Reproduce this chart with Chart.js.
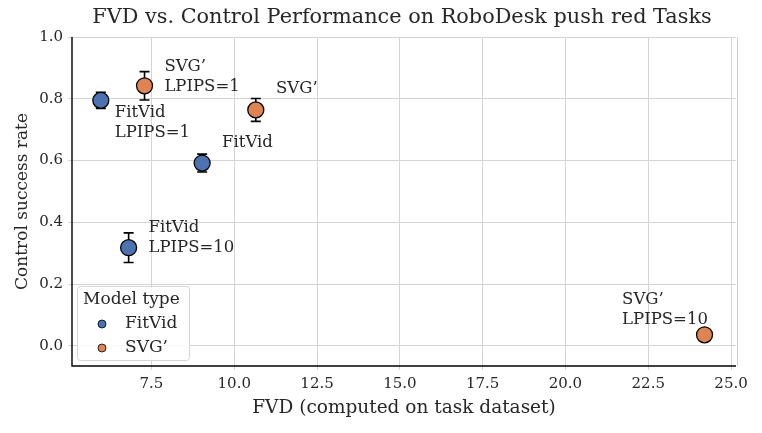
<!DOCTYPE html>
<html><head><meta charset="utf-8">
<script src="https://cdn.jsdelivr.net/npm/chart.js@4.4.1/dist/chart.umd.min.js"></script>
<style>html,body{margin:0;padding:0;background:#fff}#wrap{width:762px;height:433px}</style>
</head><body><div id="wrap"><canvas id="c" width="762" height="433"></canvas></div>
<script>
// ---- data ----
const modelTypes = ["FitVid", "SVG’"];
const fitvidFVD = [5.97, 9.03, 6.81];
const fitvidSuccess = [0.795, 0.592, 0.318];
const fitvidErr = [0.026, 0.029, 0.048];
const svgFVD = [7.29, 10.65, 24.2];
const svgSuccess = [0.842, 0.764, 0.036];
const svgErr = [0.046, 0.037, 0.0];
const labelTexts = [["SVG’", "LPIPS=1"], ["SVG’"], ["FitVid", "LPIPS=1"], ["FitVid"], ["FitVid", "LPIPS=10"], ["SVG’", "LPIPS=10"]];
const labelX = [7.89, 11.26, 6.39, 9.63, 7.41, 21.71];
const labelY = [0.903, 0.832, 0.754, 0.657, 0.382, 0.149];
const xTicks = [7.5, 10.0, 12.5, 15.0, 17.5, 20.0, 22.5, 25.0];
const yTicks = [0.0, 0.2, 0.4, 0.6, 0.8, 1.0];

const FONT = "'DejaVu Serif', serif";
const TXT = '#262626';
const colors = ['#4c72b0', '#dd8452'];

const toPts = (xs, ys) => xs.map((x, i) => ({x: x, y: ys[i]}));

const errPlugin = {
  id: 'errbars',
  beforeDatasetsDraw(chart) {
    const ctx = chart.ctx, xs = chart.scales.x, ys = chart.scales.y;
    ctx.save();
    ctx.strokeStyle = '#000'; ctx.lineWidth = 1.6;
    chart.data.datasets.forEach(ds => {
      ds.data.forEach((p, i) => {
        const e = ds.err[i]; if (!e) return;
        const px = xs.getPixelForValue(p.x);
        const y1 = ys.getPixelForValue(p.y - e), y2 = ys.getPixelForValue(p.y + e);
        ctx.beginPath();
        ctx.moveTo(px, y1); ctx.lineTo(px, y2);
        ctx.moveTo(px - 5, y1); ctx.lineTo(px + 5, y1);
        ctx.moveTo(px - 5, y2); ctx.lineTo(px + 5, y2);
        ctx.stroke();
      });
    });
    ctx.restore();
  },
  afterDatasetsDraw(chart) {
    const ctx = chart.ctx, xs = chart.scales.x, ys = chart.scales.y, ca = chart.chartArea;
    ctx.save();
    // annotations
    ctx.fillStyle = TXT; ctx.font = "16.5px " + FONT; ctx.textAlign = 'left'; ctx.textBaseline = 'middle';
    labelTexts.forEach((lines, i) => {
      const px = xs.getPixelForValue(labelX[i]), py = ys.getPixelForValue(labelY[i]);
      lines.forEach((t, k) => ctx.fillText(t, px, py + k * 19.5));
    });
    // spines
    ctx.strokeStyle = '#000'; ctx.lineWidth = 1.4;
    ctx.beginPath();
    ctx.moveTo(ca.left, ca.top); ctx.lineTo(ca.left, ca.bottom); ctx.lineTo(ca.right, ca.bottom);
    ctx.stroke();
    ctx.strokeStyle = '#d0d0d0'; ctx.lineWidth = 1;
    ctx.beginPath(); ctx.moveTo(ca.right + 1.5, ca.top); ctx.lineTo(ca.right + 1.5, ca.bottom); ctx.stroke();
    // legend
    const lx = 77, ly = 286, lw = 112, lh = 74;
    ctx.fillStyle = 'rgba(255,255,255,0.85)'; ctx.strokeStyle = '#d6d6d6'; ctx.lineWidth = 1;
    ctx.beginPath(); ctx.roundRect(lx + 0.5, ly + 0.5, lw, lh, 3); ctx.fill(); ctx.stroke();
    ctx.fillStyle = TXT; ctx.font = "17px " + FONT;
    ctx.fillText("Model type", lx + 6, ly + 14);
    modelTypes.forEach((m, k) => {
      const cy = ly + 38 + k * 24;
      ctx.beginPath(); ctx.arc(lx + 25, cy, 4, 0, Math.PI * 2);
      ctx.fillStyle = colors[k]; ctx.fill(); ctx.strokeStyle = '#000'; ctx.lineWidth = 0.8; ctx.stroke();
      ctx.fillStyle = TXT; ctx.fillText(m, lx + 48, cy);
    });
    // title
    ctx.font = "20.8px " + FONT; ctx.textAlign = 'center';
    ctx.fillText("FVD vs. Control Performance on RoboDesk push red Tasks", 402, 18);
    ctx.restore();
  }
};

new Chart(document.getElementById('c'), {
  type: 'scatter',
  data: {
    datasets: [
      {label: modelTypes[0], data: toPts(fitvidFVD, fitvidSuccess), err: fitvidErr,
       backgroundColor: colors[0], borderColor: '#000', borderWidth: 1.3, pointRadius: 8, pointHoverRadius: 8},
      {label: modelTypes[1], data: toPts(svgFVD, svgSuccess), err: svgErr,
       backgroundColor: colors[1], borderColor: '#000', borderWidth: 1.3, pointRadius: 8, pointHoverRadius: 8}
    ]
  },
  options: {
    responsive: false, animation: false,
    layout: {padding: {top: 37, right: 26, left: 0, bottom: 0}},
    plugins: {legend: {display: false}, tooltip: {enabled: false}},
    scales: {
      x: {
        type: 'linear', min: 5.1, max: 25.15,
        afterBuildTicks: s => { s.ticks = xTicks.map(v => ({value: v})); },
        afterFit: s => { s.height = 67; },
        grid: {color: '#d4d4d4', lineWidth: 1, drawTicks: true, tickLength: 4, tickColor: '#d4d4d4'},
        border: {display: false},
        ticks: {color: TXT, font: {family: FONT, size: 15}, padding: 5, maxRotation: 0,
                callback: v => v.toFixed(1)},
        title: {display: true, text: 'FVD (computed on task dataset)', color: TXT,
                font: {family: FONT, size: 18.5}, padding: {top: 0, bottom: 14}}
      },
      y: {
        type: 'linear', min: -0.065, max: 1.0,
        afterBuildTicks: s => { s.ticks = yTicks.map(v => ({value: v})); },
        afterFit: s => { s.width = 72; },
        grid: {color: '#d4d4d4', lineWidth: 1, drawTicks: true, tickLength: 4, tickColor: '#d4d4d4'},
        border: {display: false},
        ticks: {color: TXT, font: {family: FONT, size: 15}, padding: 5,
                callback: v => v.toFixed(1)},
        title: {display: true, text: 'Control success rate', color: TXT,
                font: {family: FONT, size: 17}, padding: {top: 12, bottom: 0}}
      }
    }
  },
  plugins: [errPlugin]
});
</script></body></html>
